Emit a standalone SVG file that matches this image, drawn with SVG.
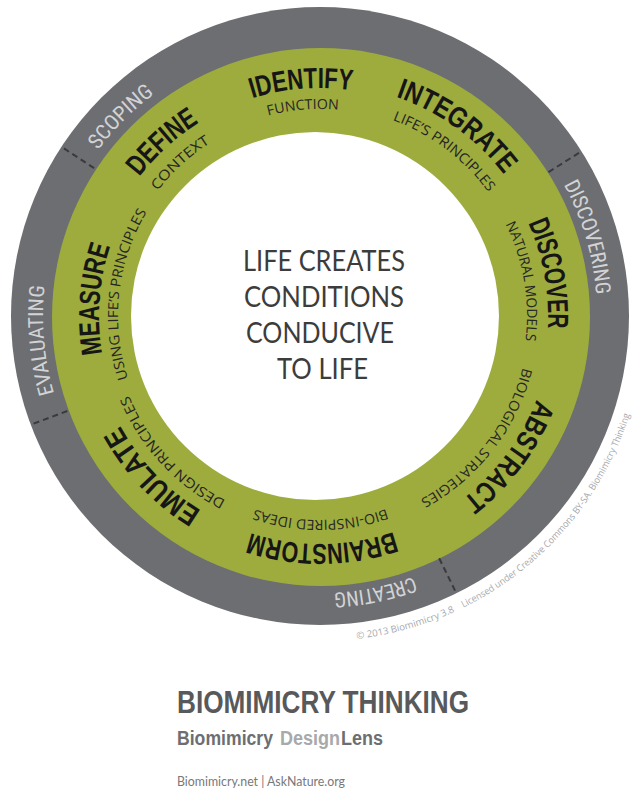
<svg xmlns="http://www.w3.org/2000/svg" width="632" height="791" viewBox="0 0 632 791">
<defs>
<path id="a277" d="M47.21,267.90 A277,277 0 0,1 592.79,267.90"/>
<path id="a221" d="M102.36,277.62 A221,221 0 0,1 537.64,277.62"/>
<path id="a228" d="M95.46,276.41 A228,228 0 0,1 544.54,276.41"/>
<path id="a232" d="M91.52,275.71 A232,232 0 0,1 548.48,275.71"/>
<path id="a202" d="M121.07,280.92 A202,202 0 0,1 518.93,280.92"/>
<path id="a204" d="M119.10,280.58 A204,204 0 0,1 520.90,280.58"/>
<path id="a205" d="M118.11,280.40 A205,205 0 0,1 521.89,280.40"/>
<path id="a207" d="M116.14,280.05 A207,207 0 0,1 523.86,280.05"/>
<path id="a209" d="M114.17,279.71 A209,209 0 0,1 525.83,279.71"/>
<path id="lic" d="M-0.06,372.44 A325,325 0 0,0 640.06,372.44"/>
</defs>
<style>
.gray{font-family:"Liberation Sans Narrow","Roboto Condensed","Liberation Sans",sans-serif;font-size:21px;fill:#d2d3d5;text-anchor:middle}
.ttl{font-family:"Liberation Sans Narrow","Liberation Sans",sans-serif;font-weight:bold;font-size:29px;fill:#161616;text-anchor:middle}
.sub{font-family:"Open Sans","Liberation Sans",sans-serif;font-size:14px;fill:#262626;text-anchor:middle}
.ctr{font-family:Lato,"Open Sans",sans-serif;font-size:28px;fill:#3c3c3c;text-anchor:middle}
.lic{font-family:"Open Sans","Liberation Sans",sans-serif;font-size:9.5px;fill:#a7a9ac}
.ft{font-family:"Liberation Sans Narrow","Liberation Sans",sans-serif;font-weight:bold}
.div{stroke:#3a3a3c;stroke-width:2;stroke-dasharray:6 4;fill:none}
</style>
<rect width="632" height="791" fill="#ffffff"/>
<g id="rings">
<circle cx="320" cy="316" r="309" fill="#6d6e71"/>
<circle cx="321" cy="317" r="269" fill="#9dac3c"/>
<circle cx="315" cy="316" r="184" fill="#ffffff"/>
</g>
<g id="connectors">
<line class="div" x1="94.1" y1="168.1" x2="61.4" y2="146.8"/>
<line class="div" x1="548.5" y1="172.1" x2="581.5" y2="151.3"/>
<line class="div" x1="67.3" y1="411.0" x2="30.7" y2="424.7"/>
<line class="div" x1="439.2" y1="558.3" x2="456.4" y2="593.3"/>
</g>
<g id="scoping" transform="rotate(-45 320 316)"><text class="gray"><textPath href="#a277" startOffset="50%" textLength="80" lengthAdjust="spacingAndGlyphs">SCOPING</textPath></text></g>
<g id="discovering" transform="rotate(73.65 320 316)"><text class="gray"><textPath href="#a277" startOffset="50%" textLength="116" lengthAdjust="spacingAndGlyphs">DISCOVERING</textPath></text></g>
<g id="creating" transform="rotate(168.7 320 316)"><text class="gray"><textPath href="#a277" startOffset="50%" textLength="82" lengthAdjust="spacingAndGlyphs">CREATING</textPath></text></g>
<g id="evaluating" transform="rotate(-95 320 316)"><text class="gray"><textPath href="#a277" startOffset="50%" textLength="109" lengthAdjust="spacingAndGlyphs">EVALUATING</textPath></text></g>
<g id="identify">
<g transform="rotate(-4.6 320 316)"><text class="ttl"><textPath href="#a228" startOffset="50%" textLength="101" lengthAdjust="spacingAndGlyphs">IDENTIFY</textPath></text></g>
<g transform="rotate(-4.7 320 316)"><text class="sub"><textPath href="#a207" startOffset="50%" textLength="71" lengthAdjust="spacingAndGlyphs">FUNCTION</textPath></text></g>
</g>
<g id="define">
<g transform="rotate(-42.2 320 316)"><text class="ttl"><textPath href="#a228" startOffset="50%" textLength="81" lengthAdjust="spacingAndGlyphs">DEFINE</textPath></text></g>
<g transform="rotate(-42.4 320 316)"><text class="sub"><textPath href="#a205" startOffset="50%" textLength="72" lengthAdjust="spacingAndGlyphs">CONTEXT</textPath></text></g>
</g>
<g id="integrate">
<g transform="rotate(35.8 320 316)"><text class="ttl"><textPath href="#a232" startOffset="50%" textLength="135" lengthAdjust="spacingAndGlyphs">INTEGRATE</textPath></text></g>
<g transform="rotate(37 320 316)"><text class="sub"><textPath href="#a209" startOffset="50%" textLength="122" lengthAdjust="spacingAndGlyphs">LIFE’S PRINCIPLES</textPath></text></g>
</g>
<g id="discover">
<g transform="rotate(79.5 320 316)"><text class="ttl"><textPath href="#a228" startOffset="50%" textLength="108" lengthAdjust="spacingAndGlyphs">DISCOVER</textPath></text></g>
<g transform="rotate(80.25 320 316)"><text class="sub"><textPath href="#a207" startOffset="50%" textLength="120" lengthAdjust="spacingAndGlyphs">NATURAL MODELS</textPath></text></g>
</g>
<g id="abstract">
<g transform="rotate(126.6 320 316)"><text class="ttl"><textPath href="#a232" startOffset="50%" textLength="126" lengthAdjust="spacingAndGlyphs">ABSTRACT</textPath></text></g>
<g transform="rotate(127.8 320 316)"><text class="sub"><textPath href="#a209" startOffset="50%" textLength="172" lengthAdjust="spacingAndGlyphs">BIOLOGICAL STRATEGIES</textPath></text></g>
</g>
<g id="brainstorm">
<g transform="rotate(179.5 320 316)"><text class="ttl"><textPath href="#a228" startOffset="50%" textLength="146" lengthAdjust="spacingAndGlyphs">BRAINSTORM</textPath></text></g>
<g transform="rotate(179.85 320 316)"><text class="sub"><textPath href="#a204" startOffset="50%" textLength="134" lengthAdjust="spacingAndGlyphs">BIO-INSPIRED IDEAS</textPath></text></g>
</g>
<g id="emulate">
<g transform="rotate(-133.7 320 316)"><text class="ttl"><textPath href="#a228" startOffset="50%" textLength="119" lengthAdjust="spacingAndGlyphs">EMULATE</textPath></text></g>
<g transform="rotate(-132.75 320 316)"><text class="sub"><textPath href="#a207" startOffset="50%" textLength="146" lengthAdjust="spacingAndGlyphs">DESIGN PRINCIPLES</textPath></text></g>
</g>
<g id="measure">
<g transform="rotate(-85.7 320 316)"><text class="ttl"><textPath href="#a221" startOffset="50%" textLength="109" lengthAdjust="spacingAndGlyphs">MEASURE</textPath></text></g>
<g transform="rotate(-83.55 320 316)"><text class="sub"><textPath href="#a202" startOffset="50%" textLength="173" lengthAdjust="spacingAndGlyphs">USING LIFE’S PRINCIPLES</textPath></text></g>
</g>
<g id="center">
<text class="ctr" x="324" y="271" textLength="162" lengthAdjust="spacingAndGlyphs">LIFE CREATES</text>
<text class="ctr" x="324" y="307" textLength="160" lengthAdjust="spacingAndGlyphs">CONDITIONS</text>
<text class="ctr" x="320" y="343" textLength="148" lengthAdjust="spacingAndGlyphs">CONDUCIVE</text>
<text class="ctr" x="322.5" y="379" textLength="91" lengthAdjust="spacingAndGlyphs">TO LIFE</text>
</g>
<g id="license">
<text class="lic"><textPath href="#lic" startOffset="490.6" textLength="102" lengthAdjust="spacingAndGlyphs">© 2013 Biomimicry 3.8</textPath></text>
<text class="lic"><textPath href="#lic" startOffset="602" textLength="262" lengthAdjust="spacingAndGlyphs">Licensed under Creative Commons BY-SA. Biomimicry Thinking</textPath></text>
</g>
<g id="footer">
<text class="ft" x="177" y="713" font-size="32" fill="#58595b" textLength="292" lengthAdjust="spacingAndGlyphs">BIOMIMICRY THINKING</text>
<text class="ft" x="177" y="745" font-size="20" fill="#6d6e71" textLength="96" lengthAdjust="spacingAndGlyphs">Biomimicry</text>
<text class="ft" x="280" y="745" font-size="20" fill="#a7a9ac" textLength="60" lengthAdjust="spacingAndGlyphs">Design</text>
<text class="ft" x="341" y="745" font-size="20" fill="#6d6e71" textLength="42" lengthAdjust="spacingAndGlyphs">Lens</text>
<text x="177" y="786" font-family="Lato,'Open Sans',sans-serif" font-size="13" fill="#77787b" textLength="168" lengthAdjust="spacingAndGlyphs">Biomimicry.net | AskNature.org</text>
</g>
</svg>
